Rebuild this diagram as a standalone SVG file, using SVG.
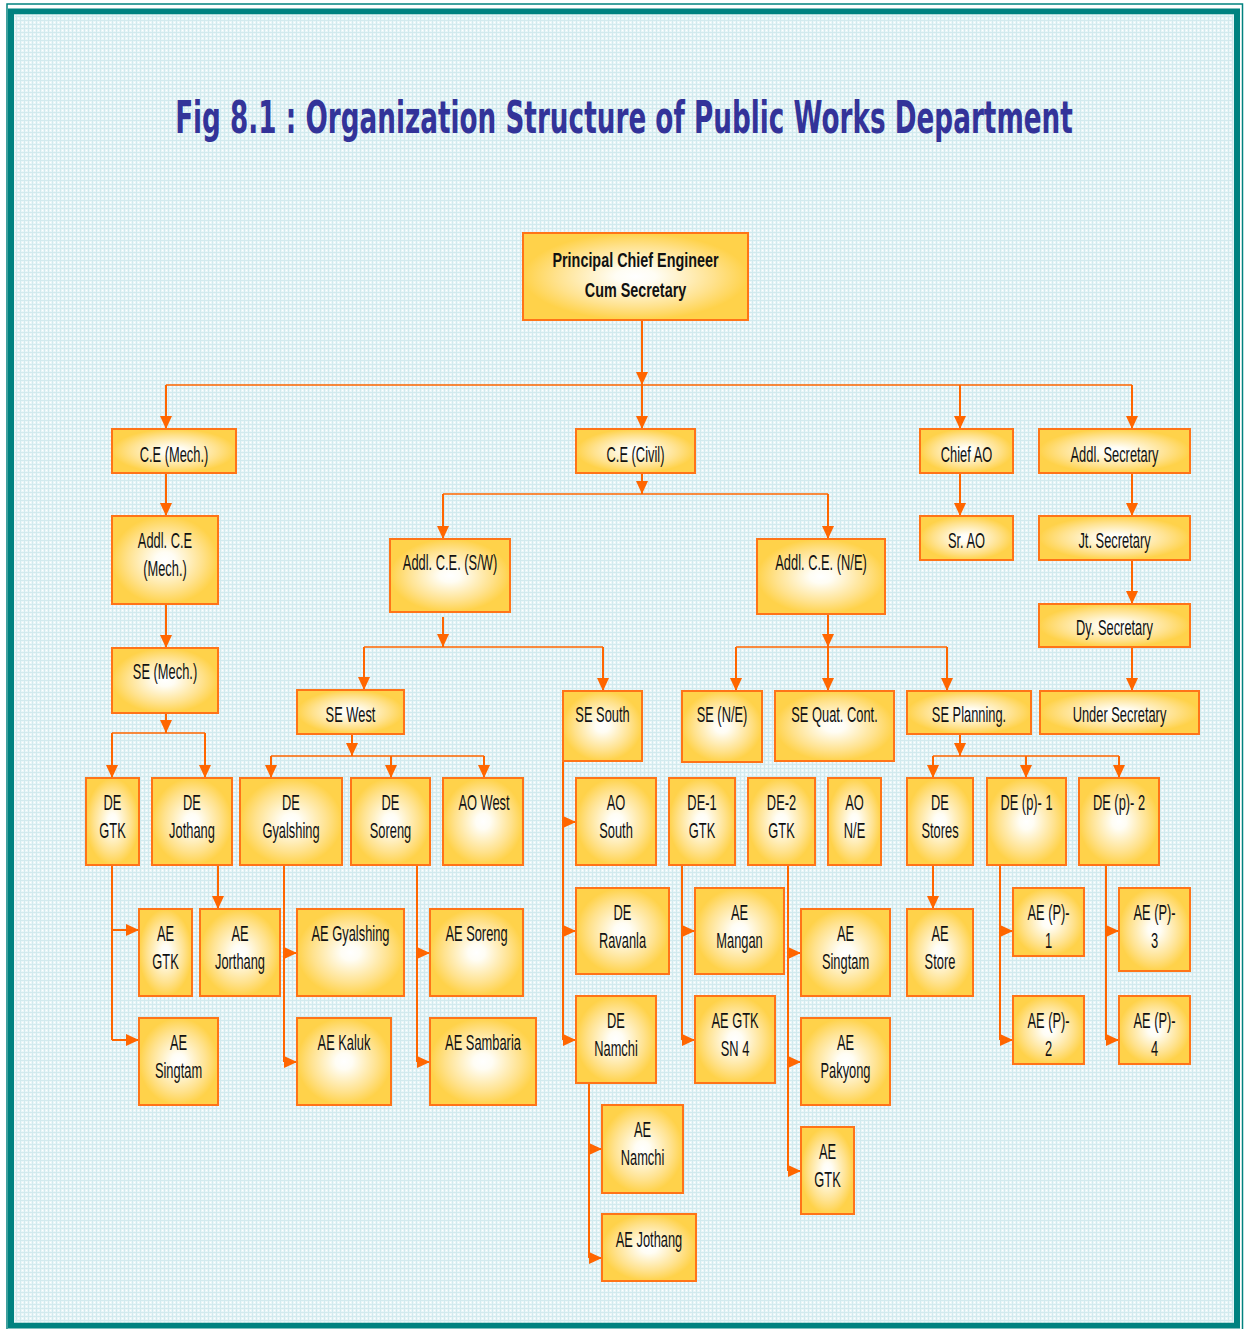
<svg xmlns="http://www.w3.org/2000/svg" width="1244" height="1329" viewBox="0 0 1244 1329">
<defs>
<pattern id="bgp" width="4" height="4" patternUnits="userSpaceOnUse">
<rect width="4" height="4" fill="#EAF6F8"/>
<rect width="4" height="1" fill="#D2EAEE"/>
<rect width="1" height="4" fill="#D2EAEE"/>
<rect x="2" y="2" width="1" height="1" fill="#FFFFFF"/>
</pattern>
<radialGradient id="bx" cx="0.5" cy="0.5" r="0.5">
<stop offset="0" stop-color="#FFFFFF"/>
<stop offset="0.18" stop-color="#FFFDF4"/>
<stop offset="0.7" stop-color="#FFE28E"/>
<stop offset="1" stop-color="#FFD24A"/>
</radialGradient>
<marker id="arr" viewBox="0 0 13 12" markerWidth="13" markerHeight="12" refX="13" refY="6" orient="auto" markerUnits="userSpaceOnUse">
<path d="M0,0 L13,6 L0,12 z" fill="#FF6600"/>
</marker>
</defs>
<style>
.b{fill:url(#bx);stroke:#FF7418;stroke-width:2}
.t{font-family:"Liberation Sans",Arial,sans-serif;font-size:22px;fill:#111;text-anchor:middle}
.tb{font-family:"Liberation Sans",Arial,sans-serif;font-size:21px;font-weight:bold;fill:#111;text-anchor:middle}
.c{fill:none;stroke:#FF6600;stroke-width:2}
.h{fill:none;stroke:#FF6600;stroke-width:1.6}
.a{marker-end:url(#arr)}
</style>
<rect width="1244" height="1329" fill="#FFFFFF"/>
<rect x="11" y="11.5" width="1226" height="1314" fill="url(#bgp)"/>
<rect x="7" y="4" width="1235.5" height="1330" fill="none" stroke="#00827F" stroke-width="1.5"/>
<rect x="11" y="11.5" width="1226" height="1314" fill="none" stroke="#008280" stroke-width="6"/>
<rect x="14.5" y="15" width="1219" height="1307" fill="none" stroke="#E4F6F6" stroke-width="1"/>
<text transform="translate(624,133) scale(0.62,1)" font-family="DejaVu Sans Condensed, DejaVu Sans, sans-serif" font-size="44" font-weight="bold" fill="#333399" text-anchor="middle" textLength="1448" lengthAdjust="spacingAndGlyphs">Fig 8.1 : Organization Structure of Public Works Department</text>

<g id="connectors">
<path class="c a" d="M642,320 V385"/>
<path class="h" d="M166,385 H1132"/>
<path class="c a" d="M166,385 V429"/>
<path class="c a" d="M642,385 V429"/>
<path class="c a" d="M960,385 V429"/>
<path class="c a" d="M1132,385 V429"/>
<path class="c a" d="M166,473 V516"/>
<path class="c a" d="M166,604 V648"/>
<path class="c a" d="M166,713 V733"/>
<path class="h" d="M112,733 H205"/>
<path class="c a" d="M112,733 V778"/>
<path class="c a" d="M205,733 V778"/>
<path class="c a" d="M642,473 V494"/>
<path class="h" d="M443,494 H828"/>
<path class="c a" d="M443,494 V539"/>
<path class="c a" d="M828,494 V539"/>
<path class="c a" d="M443,617 V647"/>
<path class="h" d="M364,647 H603"/>
<path class="c a" d="M364,647 V690"/>
<path class="c a" d="M603,647 V691"/>
<path class="c a" d="M828,614 V647"/>
<path class="h" d="M736,647 H947"/>
<path class="c a" d="M736,647 V691"/>
<path class="c a" d="M828,647 V691"/>
<path class="c a" d="M947,647 V691"/>
<path class="c a" d="M960,473 V516"/>
<path class="c a" d="M1132,473 V516"/>
<path class="c a" d="M1132,560 V604"/>
<path class="c a" d="M1132,647 V691"/>
<path class="c a" d="M352,734 V756"/>
<path class="h" d="M271,756 H484"/>
<path class="c a" d="M271,756 V778"/>
<path class="c a" d="M391,756 V778"/>
<path class="c a" d="M484,756 V778"/>
<path class="c a" d="M960,734 V756"/>
<path class="h" d="M933,756 H1119"/>
<path class="c a" d="M933,756 V778"/>
<path class="c a" d="M1026,756 V778"/>
<path class="c a" d="M1119,756 V778"/>
<path class="c" d="M112,865 V1040"/>
<path class="c a" d="M112,930 H139"/>
<path class="c a" d="M112,1040 H139"/>
<path class="c a" d="M218,865 V909"/>
<path class="c" d="M284,865 V1062"/>
<path class="c a" d="M284,953 H297"/>
<path class="c a" d="M284,1062 H297"/>
<path class="c" d="M417,865 V1062"/>
<path class="c a" d="M417,953 H430"/>
<path class="c a" d="M417,1062 H430"/>
<path class="c" d="M563,761 V1040"/>
<path class="c a" d="M563,822 H576"/>
<path class="c a" d="M563,931 H576"/>
<path class="c a" d="M563,1040 H576"/>
<path class="c" d="M682,865 V1040"/>
<path class="c a" d="M682,931 H695"/>
<path class="c a" d="M682,1040 H695"/>
<path class="c" d="M788,865 V1171"/>
<path class="c a" d="M788,953 H801"/>
<path class="c a" d="M788,1062 H801"/>
<path class="c a" d="M788,1171 H801"/>
<path class="c" d="M589,1083 V1258"/>
<path class="c a" d="M589,1149 H602"/>
<path class="c a" d="M589,1258 H602"/>
<path class="c a" d="M933,865 V909"/>
<path class="c" d="M1000,865 V1040"/>
<path class="c a" d="M1000,931 H1013"/>
<path class="c a" d="M1000,1040 H1013"/>
<path class="c" d="M1106,865 V1040"/>
<path class="c a" d="M1106,931 H1119"/>
<path class="c a" d="M1106,1040 H1119"/>
</g>

<g id="pce"><rect class="b" x="523" y="233" width="225" height="87"/>
<text class="tb" transform="translate(635.5,267) scale(0.685,1)">Principal Chief Engineer</text>
<text class="tb" transform="translate(635.5,297) scale(0.685,1)">Cum Secretary</text></g>

<g id="ce-mech"><rect class="b" x="112" y="429" width="124" height="44"/><text class="t" transform="translate(174,462) scale(0.585,1)">C.E (Mech.)</text></g>
<g id="ce-civil"><rect class="b" x="576" y="429" width="119" height="44"/><text class="t" transform="translate(635.5,462) scale(0.585,1)">C.E (Civil)</text></g>
<g id="chief-ao"><rect class="b" x="920" y="429" width="93" height="44"/><text class="t" transform="translate(966.5,462) scale(0.585,1)">Chief AO</text></g>
<g id="addl-sec"><rect class="b" x="1039" y="429" width="151" height="44"/><text class="t" transform="translate(1114.5,462) scale(0.585,1)">Addl. Secretary</text></g>

<g id="addl-ce-mech"><rect class="b" x="112" y="516" width="106" height="88"/><text class="t" transform="translate(165,548) scale(0.585,1)">Addl. C.E</text><text class="t" transform="translate(165,576) scale(0.585,1)">(Mech.)</text></g>
<g id="addl-ce-sw"><rect class="b" x="390" y="539" width="120" height="73"/><text class="t" transform="translate(450,570) scale(0.585,1)">Addl. C.E. (S/W)</text></g>
<g id="addl-ce-ne"><rect class="b" x="757" y="539" width="128" height="75"/><text class="t" transform="translate(821,570) scale(0.585,1)">Addl. C.E. (N/E)</text></g>
<g id="sr-ao"><rect class="b" x="920" y="516" width="93" height="44"/><text class="t" transform="translate(966.5,548) scale(0.585,1)">Sr. AO</text></g>
<g id="jt-sec"><rect class="b" x="1039" y="516" width="151" height="44"/><text class="t" transform="translate(1114.5,548) scale(0.585,1)">Jt. Secretary</text></g>
<g id="dy-sec"><rect class="b" x="1039" y="604" width="151" height="43"/><text class="t" transform="translate(1114.5,635) scale(0.585,1)">Dy. Secretary</text></g>

<g id="se-mech"><rect class="b" x="112" y="648" width="106" height="65"/><text class="t" transform="translate(165,679) scale(0.585,1)">SE (Mech.)</text></g>
<g id="se-west"><rect class="b" x="297" y="690" width="107" height="44"/><text class="t" transform="translate(350.5,722) scale(0.585,1)">SE West</text></g>
<g id="se-south"><rect class="b" x="563" y="691" width="79" height="70"/><text class="t" transform="translate(602.5,722) scale(0.585,1)">SE South</text></g>
<g id="se-ne"><rect class="b" x="682" y="691" width="80" height="71"/><text class="t" transform="translate(722,722) scale(0.585,1)">SE (N/E)</text></g>
<g id="se-quat"><rect class="b" x="775" y="691" width="119" height="70"/><text class="t" transform="translate(834.5,722) scale(0.585,1)">SE Quat. Cont.</text></g>
<g id="se-planning"><rect class="b" x="907" y="691" width="124" height="43"/><text class="t" transform="translate(969,722) scale(0.585,1)">SE Planning.</text></g>
<g id="under-sec"><rect class="b" x="1040" y="691" width="159" height="43"/><text class="t" transform="translate(1119.5,722) scale(0.585,1)">Under Secretary</text></g>

<g id="de-gtk"><rect class="b" x="86" y="778" width="53" height="87"/><text class="t" transform="translate(112.5,810) scale(0.585,1)">DE</text><text class="t" transform="translate(112.5,838) scale(0.585,1)">GTK</text></g>
<g id="de-jothang"><rect class="b" x="152" y="778" width="80" height="87"/><text class="t" transform="translate(192,810) scale(0.585,1)">DE</text><text class="t" transform="translate(192,838) scale(0.585,1)">Jothang</text></g>
<g id="de-gyalshing"><rect class="b" x="240" y="778" width="102" height="87"/><text class="t" transform="translate(291,810) scale(0.585,1)">DE</text><text class="t" transform="translate(291,838) scale(0.585,1)">Gyalshing</text></g>
<g id="de-soreng"><rect class="b" x="351" y="778" width="79" height="87"/><text class="t" transform="translate(390.5,810) scale(0.585,1)">DE</text><text class="t" transform="translate(390.5,838) scale(0.585,1)">Soreng</text></g>
<g id="ao-west"><rect class="b" x="443" y="778" width="80" height="87"/><text class="t" transform="translate(484,810) scale(0.585,1)">AO West</text></g>
<g id="ao-south"><rect class="b" x="576" y="778" width="80" height="87"/><text class="t" transform="translate(616,810) scale(0.585,1)">AO</text><text class="t" transform="translate(616,838) scale(0.585,1)">South</text></g>
<g id="de1-gtk"><rect class="b" x="669" y="778" width="66" height="87"/><text class="t" transform="translate(702,810) scale(0.585,1)">DE-1</text><text class="t" transform="translate(702,838) scale(0.585,1)">GTK</text></g>
<g id="de2-gtk"><rect class="b" x="748" y="778" width="67" height="87"/><text class="t" transform="translate(781.5,810) scale(0.585,1)">DE-2</text><text class="t" transform="translate(781.5,838) scale(0.585,1)">GTK</text></g>
<g id="ao-ne"><rect class="b" x="828" y="778" width="53" height="87"/><text class="t" transform="translate(854.5,810) scale(0.585,1)">AO</text><text class="t" transform="translate(854.5,838) scale(0.585,1)">N/E</text></g>
<g id="de-stores"><rect class="b" x="907" y="778" width="66" height="87"/><text class="t" transform="translate(940,810) scale(0.585,1)">DE</text><text class="t" transform="translate(940,838) scale(0.585,1)">Stores</text></g>
<g id="de-p1"><rect class="b" x="987" y="778" width="79" height="87"/><text class="t" transform="translate(1026.5,810) scale(0.585,1)">DE (p)- 1</text></g>
<g id="de-p2"><rect class="b" x="1079" y="778" width="80" height="87"/><text class="t" transform="translate(1119,810) scale(0.585,1)">DE (p)- 2</text></g>

<g id="ae-gtk-l"><rect class="b" x="139" y="909" width="53" height="87"/><text class="t" transform="translate(165.5,941) scale(0.585,1)">AE</text><text class="t" transform="translate(165.5,969) scale(0.585,1)">GTK</text></g>
<g id="ae-jorthang"><rect class="b" x="200" y="909" width="80" height="87"/><text class="t" transform="translate(240,941) scale(0.585,1)">AE</text><text class="t" transform="translate(240,969) scale(0.585,1)">Jorthang</text></g>
<g id="ae-gyalshing"><rect class="b" x="297" y="909" width="107" height="87"/><text class="t" transform="translate(350.5,941) scale(0.585,1)">AE Gyalshing</text></g>
<g id="ae-soreng"><rect class="b" x="430" y="909" width="93" height="87"/><text class="t" transform="translate(476.5,941) scale(0.585,1)">AE Soreng</text></g>
<g id="ae-singtam-l"><rect class="b" x="139" y="1018" width="79" height="87"/><text class="t" transform="translate(178.5,1050) scale(0.585,1)">AE</text><text class="t" transform="translate(178.5,1078) scale(0.585,1)">Singtam</text></g>
<g id="ae-kaluk"><rect class="b" x="297" y="1018" width="94" height="87"/><text class="t" transform="translate(344,1050) scale(0.585,1)">AE Kaluk</text></g>
<g id="ae-sambaria"><rect class="b" x="430" y="1018" width="106" height="87"/><text class="t" transform="translate(483,1050) scale(0.585,1)">AE Sambaria</text></g>

<g id="de-ravanla"><rect class="b" x="576" y="888" width="93" height="86"/><text class="t" transform="translate(622.5,920) scale(0.585,1)">DE</text><text class="t" transform="translate(622.5,948) scale(0.585,1)">Ravanla</text></g>
<g id="ae-mangan"><rect class="b" x="695" y="888" width="89" height="86"/><text class="t" transform="translate(739.5,920) scale(0.585,1)">AE</text><text class="t" transform="translate(739.5,948) scale(0.585,1)">Mangan</text></g>
<g id="ae-singtam-m"><rect class="b" x="801" y="909" width="89" height="87"/><text class="t" transform="translate(845.5,941) scale(0.585,1)">AE</text><text class="t" transform="translate(845.5,969) scale(0.585,1)">Singtam</text></g>
<g id="de-namchi"><rect class="b" x="576" y="996" width="80" height="87"/><text class="t" transform="translate(616,1028) scale(0.585,1)">DE</text><text class="t" transform="translate(616,1056) scale(0.585,1)">Namchi</text></g>
<g id="ae-gtk-sn4"><rect class="b" x="695" y="996" width="80" height="87"/><text class="t" transform="translate(735,1028) scale(0.585,1)">AE GTK</text><text class="t" transform="translate(735,1056) scale(0.585,1)">SN 4</text></g>
<g id="ae-pakyong"><rect class="b" x="801" y="1018" width="89" height="87"/><text class="t" transform="translate(845.5,1050) scale(0.585,1)">AE</text><text class="t" transform="translate(845.5,1078) scale(0.585,1)">Pakyong</text></g>
<g id="ae-gtk-m"><rect class="b" x="801" y="1127" width="53" height="87"/><text class="t" transform="translate(827.5,1159) scale(0.585,1)">AE</text><text class="t" transform="translate(827.5,1187) scale(0.585,1)">GTK</text></g>
<g id="ae-namchi"><rect class="b" x="602" y="1105" width="81" height="88"/><text class="t" transform="translate(642.5,1137) scale(0.585,1)">AE</text><text class="t" transform="translate(642.5,1165) scale(0.585,1)">Namchi</text></g>
<g id="ae-jothang"><rect class="b" x="602" y="1214" width="94" height="67"/><text class="t" transform="translate(649,1247) scale(0.585,1)">AE Jothang</text></g>

<g id="ae-store"><rect class="b" x="907" y="909" width="66" height="87"/><text class="t" transform="translate(940,941) scale(0.585,1)">AE</text><text class="t" transform="translate(940,969) scale(0.585,1)">Store</text></g>
<g id="ae-p1"><rect class="b" x="1013" y="888" width="71" height="68"/><text class="t" transform="translate(1048.5,920) scale(0.585,1)">AE (P)-</text><text class="t" transform="translate(1048.5,948) scale(0.585,1)">1</text></g>
<g id="ae-p2"><rect class="b" x="1013" y="996" width="71" height="68"/><text class="t" transform="translate(1048.5,1028) scale(0.585,1)">AE (P)-</text><text class="t" transform="translate(1048.5,1056) scale(0.585,1)">2</text></g>
<g id="ae-p3"><rect class="b" x="1119" y="888" width="71" height="83"/><text class="t" transform="translate(1154.5,920) scale(0.585,1)">AE (P)-</text><text class="t" transform="translate(1154.5,948) scale(0.585,1)">3</text></g>
<g id="ae-p4"><rect class="b" x="1119" y="996" width="71" height="68"/><text class="t" transform="translate(1154.5,1028) scale(0.585,1)">AE (P)-</text><text class="t" transform="translate(1154.5,1056) scale(0.585,1)">4</text></g>
</svg>
